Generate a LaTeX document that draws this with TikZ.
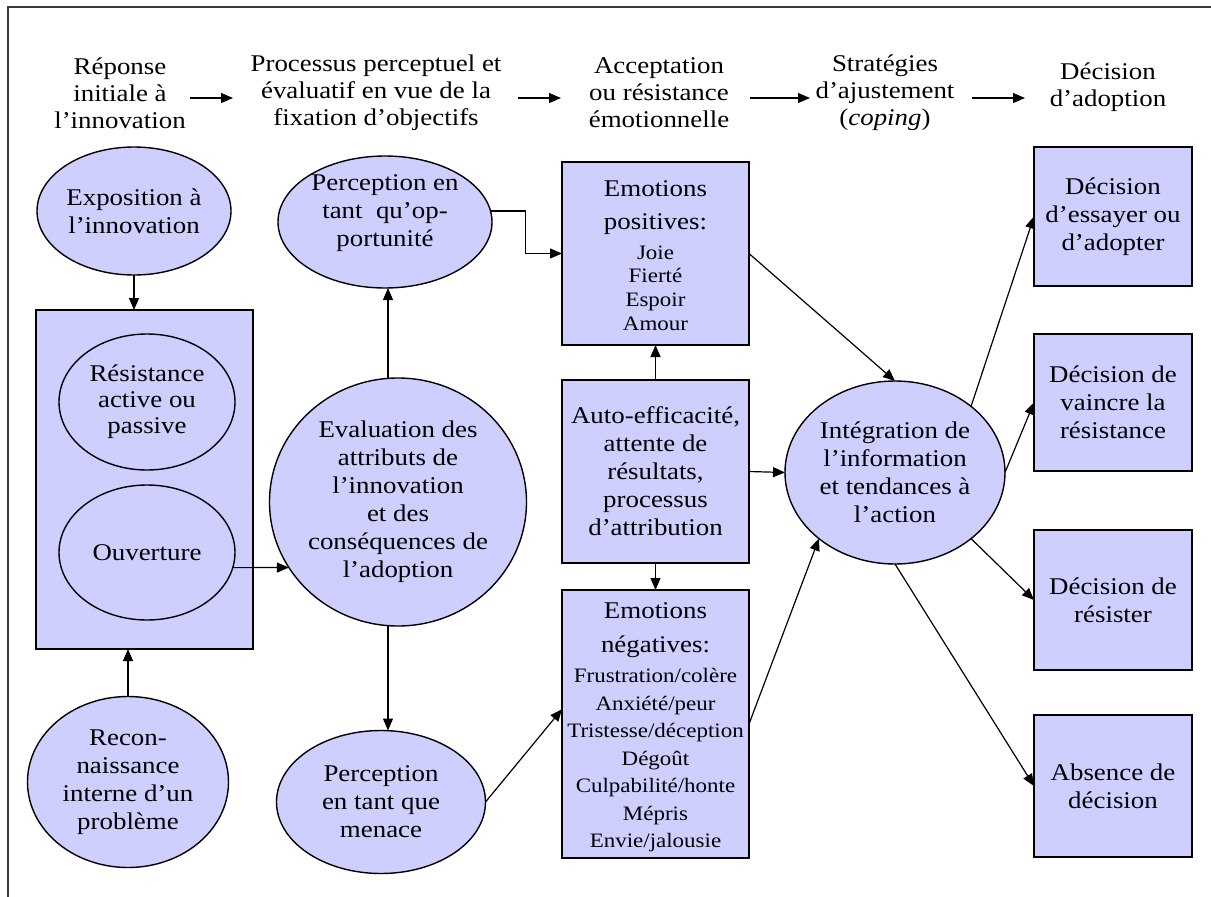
\documentclass[tikz,border=0pt]{standalone}
\usepackage{fontspec}
\setmainfont{Liberation Serif}[FakeStretch=1.12]
\usetikzlibrary{arrows.meta,shapes.geometric}

\definecolor{lav}{RGB}{206,206,255}
\definecolor{framegray}{RGB}{60,60,60}

\tikzset{
  x=1pt, y=-1pt,
  lavshape/.style={draw=black, line width=1.4pt, fill=lav, inner sep=0pt, outer sep=0pt},
  oval/.style={lavshape, ellipse},
  rect/.style={lavshape, rectangle},
  txt/.style={align=center, inner sep=0pt, font=\fontsize{24}{28}\selectfont},
  headtxt/.style={align=center, inner sep=0pt, font=\fontsize{24}{27}\selectfont},
  listtxt/.style={align=center, inner sep=0pt},
  link/.style={line width=1.2pt, -{Triangle[length=12pt,width=10pt]}},
}

\begin{document}
\begin{tikzpicture}
\useasboundingbox (0,0) rectangle (1211,897);

% outer frame
\draw[line width=2pt, framegray] (8,897) -- (8,7) -- (1211,7);

% stage headings
\node[headtxt] (h1) at (120,93) {Réponse\\initiale à\\l’innovation};
\node[headtxt] (h2) at (376,93) {Processus perceptuel et\\évaluatif en vue de la\\fixation d’objectifs};
\node[headtxt] (h3) at (659,93) {Acceptation\\ou résistance\\émotionnelle};
\node[headtxt] (h4) at (885,93) {Stratégies\\d’ajustement\\(\textit{coping})};
\node[headtxt] (h5) at (1108,87) {Décision\\d’adoption};

\coordinate (a1s) at (190,98); \coordinate (a1e) at (233,98);
\coordinate (a2s) at (518,98); \coordinate (a2e) at (561,98);
\coordinate (a3s) at (750,98); \coordinate (a3e) at (810,98);
\coordinate (a4s) at (972,98); \coordinate (a4e) at (1025,98);
\foreach \s/\e in {a1s/a1e,a2s/a2e,a3s/a3e,a4s/a4e}
  \draw[link] (\s) -- (\e);

% column 1
\node[oval, minimum width=194pt, minimum height=128pt] (expo) at (134,211) {};
\node[txt] (expo-t) at (expo) {Exposition à\\l’innovation};

\node[rect, minimum width=217pt, minimum height=339pt] (lbox) at (144.5,479.5) {};
\node[oval, minimum width=176pt, minimum height=136pt] (res) at (147,402) {};
\node[txt, font=\fontsize{24}{26}\selectfont] (res-t) at (res) {Résistance\\active ou\\passive};
\node[oval, minimum width=176pt, minimum height=135pt] (ouv) at (147,552.5) {};
\node[txt] (ouv-t) at (ouv) {Ouverture};

\node[oval, minimum width=201pt, minimum height=171pt] (recon) at (128,782) {};
\node[txt] (recon-t) at (recon) {Recon-\\naissance\\interne d’un\\problème};

% column 2
\node[oval, minimum width=214pt, minimum height=132pt] (opp) at (385,222) {};
\node[txt] (opp-t) at ([yshift=9pt]opp.center) {Perception en\\tant~~qu’op-\\portunité};

\node[oval, minimum width=257pt, minimum height=248pt] (eval) at (398,502) {};
\node[txt] (eval-t) at (eval) {Evaluation des\\attributs de\\l’innovation\\et des\\conséquences de\\l’adoption};

\node[oval, minimum width=209pt, minimum height=143pt] (men) at (381,802) {};
\node[txt] (men-t) at (men) {Perception\\en tant que\\menace};

\coordinate (vline) at (388,0);

% column 3
\node[rect, minimum width=187pt, minimum height=183pt] (pos) at (655.5,253.5) {};
\node[txt, font=\fontsize{24}{33}\selectfont] (pos-t) at (655.5,208) {Emotions\\positives:};
\node[listtxt, font=\fontsize{20.5}{23.7}\selectfont] (pos-l) at (655.5,288) {Joie\\Fierté\\Espoir\\Amour};

\node[rect, minimum width=187pt, minimum height=183pt] (auto) at (655.5,471.5) {};
\node[txt] (auto-t) at (auto) {Auto-efficacité,\\attente de\\résultats,\\processus\\d’attribution};

\node[rect, minimum width=187pt, minimum height=268pt] (neg) at (655.5,724) {};
\node[txt, font=\fontsize{24}{34}\selectfont] (neg-t) at (655.5,630) {Emotions\\négatives:};
\node[listtxt, font=\fontsize{20.5}{27.5}\selectfont] (neg-l) at (655.5,760.5) {Frustration/colère\\Anxiété/peur\\Tristesse/déception\\Dégoût\\Culpabilité/honte\\Mépris\\Envie/jalousie};

% column 4
\node[oval, minimum width=220pt, minimum height=183pt] (integ) at (895,472.5) {};
\node[txt] (integ-t) at (integ) {Intégration de\\l’information\\et tendances à\\l’action};

% column 5
\node[rect, minimum width=158pt, minimum height=139pt] (b1) at (1113,216.5) {};
\node[txt] (b1-t) at (b1) {Décision\\d’essayer ou\\d’adopter};
\node[rect, minimum width=158pt, minimum height=137pt] (b2) at (1113,402.5) {};
\node[txt] (b2-t) at (b2) {Décision de\\vaincre la\\résistance};
\node[rect, minimum width=158pt, minimum height=140pt] (b3) at (1113,600) {};
\node[txt] (b3-t) at (b3) {Décision de\\résister};
\node[rect, minimum width=158pt, minimum height=142pt] (b4) at (1113,786) {};
\node[txt] (b4-t) at (b4) {Absence de\\décision};

% connectors
\draw[link] (expo.south) -- (expo.south |- lbox.north);
\draw[link] (recon.north) -- (recon.north |- lbox.south);
\draw[link] (ouv.-10) -- (eval.211);
\draw[link] (vline |- eval.north) -- (vline |- opp.south);
\draw[link] (vline |- eval.south) -- (vline |- men.north);
\draw[link] (opp.6) -- ++(35,0) |- (pos.west);
\draw[link] (men.east) -- (neg.171.5);
\draw[link] (auto.north) -- (pos.south);
\draw[link] (auto.south) -- (neg.north);
\draw[link] (auto.east) -- (integ.west);
\draw[link] (pos.east) -- (integ.north);
\draw[link] (neg.east) -- (integ.221);
\draw[link] (integ.41) -- (b1.west);
\draw[link] (integ.east) -- (b2.west);
\draw[link] (integ.-41) -- (b3.west);
\draw[link] (integ.south) -- (b4.west);
\end{tikzpicture}
\end{document}
